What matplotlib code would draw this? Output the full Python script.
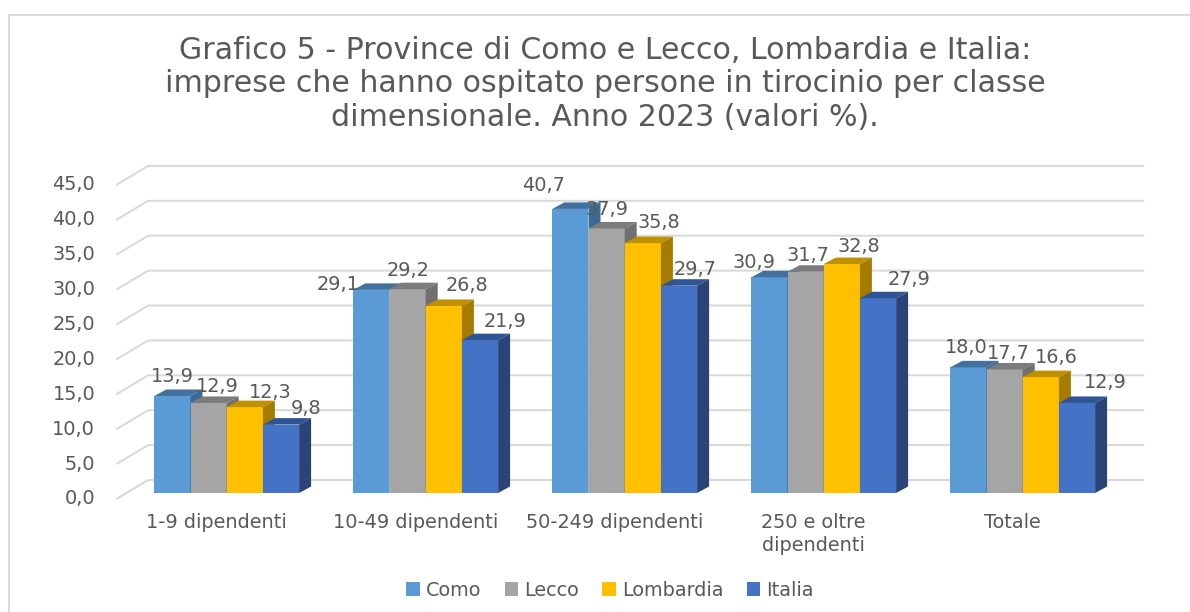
'''
Grafico 5: imprese con persone in tirocinio, barre in finto 3D come in Excel.
'''

import numpy as np
import matplotlib
matplotlib.use("Agg")
import matplotlib.pyplot as plt
from matplotlib.patches import Polygon, Rectangle, Patch
from matplotlib.transforms import ScaledTranslation

categories = ["1-9 dipendenti", "10-49 dipendenti", "50-249 dipendenti",
              "250 e oltre\ndipendenti", "Totale"]
como = [13.9, 29.1, 40.7, 30.9, 18.0]
lecco = [12.9, 29.2, 37.9, 31.7, 17.7]
lombardia = [12.3, 26.8, 35.8, 32.8, 16.6]
italia = [9.8, 21.9, 29.7, 27.9, 12.9]
series_names = ["Como", "Lecco", "Lombardia", "Italia"]
y_ticks = [0, 5, 10, 15, 20, 25, 30, 35, 40, 45]

title = ("Grafico 5 - Province di Como e Lecco, Lombardia e Italia:\n"
         "imprese che hanno ospitato persone in tirocinio per classe\n"
         "dimensionale. Anno 2023 (valori %).")

front_colors = ["#5B9BD5", "#A5A5A5", "#FFC000", "#4472C4"]
top_colors = ["#41719C", "#7C7C7C", "#BF9000", "#2F5597"]
side_colors = ["#3A6A96", "#707070", "#A67C00", "#2A4478"]
text_color = "#595959"
grid_color = "#D9D9D9"

# spostamento delle etichette rispetto alla cima della barra, in pixel (una riga per serie)
label_dx = [[0, -33, -27, -15, -2], [9, 0, 0, 2, 4], [25, 23, 16, 17, 16], [25, 25, 16, 31, 28]]
label_dy = [[19, 5, 23, 15, 20], [16, 19, 19, 16, 16], [15, 20, 21, 18, 20], [16, 19, 16, 19, 20]]

W, H = 1190, 612
DPI = 100
PX = 72 / DPI
FONT = 13.9

fig = plt.figure(figsize=(W / DPI, H / DPI), dpi=DPI, facecolor="white")
ax = fig.add_axes([127.2 / W, 1 - 493 / H, 995 / W, 314.1 / H])
ax.set_xlim(-0.5, 4.5)
ax.set_ylim(0, 45)
ax.patch.set_visible(False)
for s in ax.spines.values():
    s.set_visible(False)

# conversione da pixel a unita' dei dati
ux = 1 / 199
uy = 45 / 314.1

# cornice del grafico, esce dal bordo a destra e in basso
fig.add_artist(Rectangle((9 / W, -0.1), 1.2, 0.1 + 1 - 15 / H, transform=fig.transFigure,
                         facecolor="none", edgecolor=grid_color, linewidth=2 * PX, zorder=-1))

# griglia: parete di fondo e pavimento laterale
for v in y_ticks:
    xs = [-0.5 - 10 * ux, -0.5 + 21 * ux, 4.5 + 21 * ux]
    ys = [v - 5.5 * uy, v + 13 * uy, v + 13 * uy]
    ax.plot(xs, ys, color=grid_color, lw=2 * PX, clip_on=False, zorder=1)

bar_w = 36.2 * ux
dep_x = 12 * ux
dep_y = 6.5 * uy
x = np.arange(len(categories))

for j, vals in enumerate([como, lecco, lombardia, italia]):
    left = x - 2 * bar_w + j * bar_w
    ax.bar(left, vals, width=bar_w, align="edge", color=front_colors[j], zorder=3 + j)
    for i, v in enumerate(vals):
        l = left[i]
        r = l + bar_w
        ax.add_patch(Polygon([(l, v), (r, v), (r + dep_x, v + dep_y), (l + dep_x, v + dep_y)],
                             facecolor=top_colors[j], edgecolor="none", zorder=3 + j, clip_on=False))
        ax.add_patch(Polygon([(r, 0), (r + dep_x, dep_y), (r + dep_x, v + dep_y), (r, v)],
                             facecolor=side_colors[j], edgecolor="none", zorder=3 + j, clip_on=False))
        ax.annotate(f"{v:.1f}".replace(".", ","), (l + bar_w / 2, v),
                    xytext=(label_dx[j][i] * PX, label_dy[j][i] * PX), textcoords="offset points",
                    ha="center", va="center", fontsize=FONT, color=text_color, zorder=20)

ax.set_xticks(x - 10 * ux)
ax.set_xticklabels(categories, fontsize=FONT, color=text_color, linespacing=1.25)
ax.set_yticks(y_ticks)
ax.set_yticklabels([f"{v:.1f}".replace(".", ",") for v in y_ticks], fontsize=FONT, color=text_color)
ax.tick_params(axis="x", length=0, pad=20 * PX)
ax.tick_params(axis="y", length=0, pad=32 * PX)
shift = ScaledTranslation(0, -4 / DPI, fig.dpi_scale_trans)
for t in ax.get_yticklabels():
    t.set_transform(t.get_transform() + shift)

fig.text(605 / W, 1 - 84 / H, title, ha="center", va="center", fontsize=21.6,
         color=text_color, linespacing=1.2)

handles = [Patch(facecolor=c, label=n) for c, n in zip(front_colors, series_names)]
fig.legend(handles=handles, loc="center", bbox_to_anchor=(610 / W, 1 - 590 / H), ncol=4,
           frameon=False, fontsize=FONT, labelcolor=text_color, handlelength=0.72,
           handleheight=0.72, handletextpad=0.3, columnspacing=1.2)

fig.savefig("out.png", dpi=DPI)
